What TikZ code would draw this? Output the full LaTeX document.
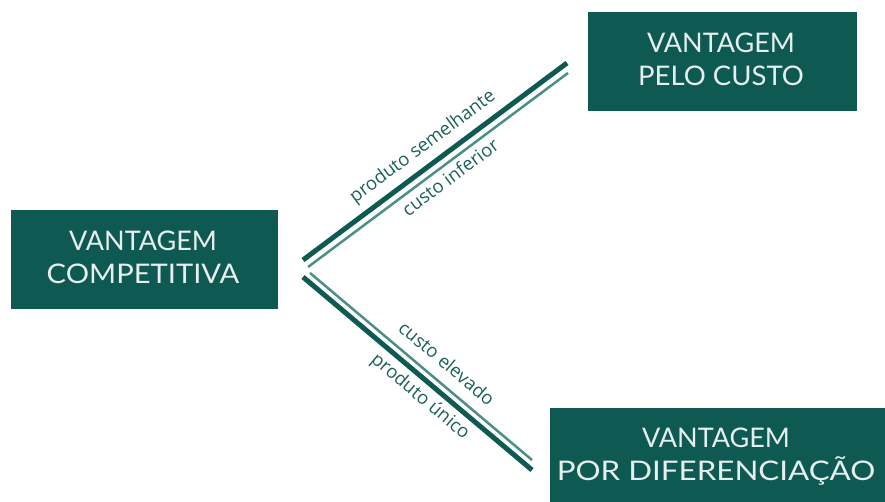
\documentclass[tikz,border=0pt]{standalone}
\usepackage{fontspec}
\setmainfont{Lato}
\newfontfamily\labelfont{Open Sans}
\definecolor{teal1}{HTML}{0E5A53}
\definecolor{teal2}{HTML}{4B8F88}
\definecolor{tealtext}{HTML}{1C6159}
\definecolor{boxtxt}{HTML}{E6EFED}
\begin{document}
\begin{tikzpicture}[x=1pt,y=-1pt,
  box/.style={fill=teal1, draw=none, inner sep=0pt},
  boxtext/.style={text=boxtxt, align=center, font=\fontsize{27}{33}\selectfont, inner sep=0pt},
  thick line/.style={draw=teal1, line width=5pt},
  thin line/.style={draw=teal2, line width=2.5pt},
  lbl/.style={text=tealtext, font=\labelfont\fontsize{18.5}{20}\selectfont, inner sep=0pt}]
\useasboundingbox (0,0) rectangle (885,502);
% boxes
\node[box, minimum width=267pt, minimum height=99pt] (cv) at (144,259.5) {};
\node[boxtext] (cvt) at (143,257) {VANTAGEM\\\scalebox{1.08}[1]{COMPETITIVA}};
\node[box, minimum width=269pt, minimum height=99pt] (pc) at (722.5,61.5) {};
\node[boxtext] (pct) at (721,59) {VANTAGEM\\\scalebox{1.02}[1]{PELO CUSTO}};
\node[box, minimum width=345pt, minimum height=110pt] (pd) at (722.5,463) {};
\node[boxtext] (pdt) at (716,457) {VANTAGEM\\\scalebox{1.16}[1]{POR DIFERENCIA\c{C}\~AO}};
% line end points
\coordinate (u1a) at (303,260); \coordinate (u1b) at (567,63);
\coordinate (u2a) at (308,267); \coordinate (u2b) at (568,73);
\coordinate (l1a) at (303,277); \coordinate (l1b) at (532,470);
\coordinate (l2a) at (310,273); \coordinate (l2b) at (532,460);
\draw[thick line] (u1a) -- (u1b);
\draw[thin line] (u2a) -- (u2b);
\draw[thick line] (l1a) -- (l1b);
\draw[thin line] (l2a) -- (l2b);
% labels
\node[lbl, rotate=36.7] (ps) at (423,147) {produto semelhante};
\node[lbl, rotate=36.7] (ci) at (450,177) {custo inferior};
\node[lbl, rotate=-40.1] (ce) at (447,363) {custo elevado};
\node[lbl, rotate=-40.1] (pu) at (420,397) {produto único};
\end{tikzpicture}
\end{document}
